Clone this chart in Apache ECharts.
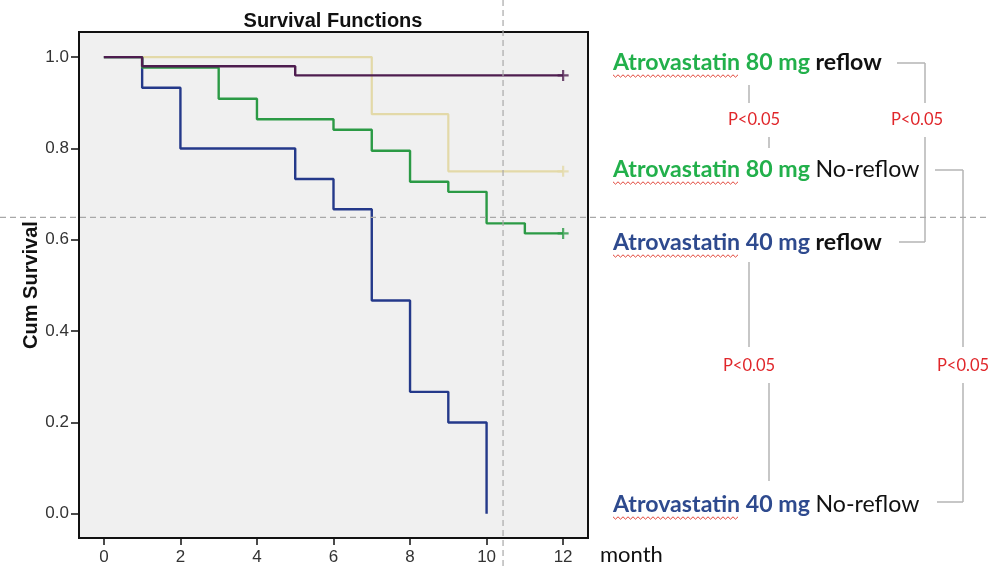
<!DOCTYPE html>
<html>
<head>
<meta charset="utf-8">
<script src="https://cdn.jsdelivr.net/npm/echarts@6/dist/echarts.min.js"></script>
<style>html,body{margin:0;padding:0;background:#fff;}#c{width:990px;height:570px;}</style>
</head>
<body>
<div id="c"></div>
<script>
// ---- data ----
const monthTicks = [0, 2, 4, 6, 8, 10, 12];
const survivalTicks = [0, 0.2, 0.4, 0.6, 0.8, 1.0];

const blueTimes = [0, 1, 2, 5, 6, 7, 8, 9, 10];
const blueSurv  = [1, 0.933, 0.8, 0.733, 0.667, 0.467, 0.267, 0.2, 0];

const greenTimes = [0, 1, 3, 4, 6, 7, 8, 9, 10, 11, 12];
const greenSurv  = [1, 0.977, 0.909, 0.864, 0.841, 0.795, 0.727, 0.705, 0.636, 0.614, 0.614];

const tanTimes = [0, 7, 9, 12];
const tanSurv  = [1, 0.875, 0.75, 0.75];

const purpleTimes = [0, 1, 5, 12];
const purpleSurv  = [1, 0.98, 0.96, 0.96];

const censorGreen  = [[12, 0.614]];
const censorTan    = [[12, 0.75]];
const censorPurple = [[12, 0.96]];

const refLineMonth = 10.43;
const refLineSurv = 0.649;

const groupLabels = [
  { drug: 'Atrovastatin', dose: '80 mg', flow: 'reflow', color: 'green', bold: true },
  { drug: 'Atrovastatin', dose: '80 mg', flow: 'No-reflow', color: 'green', bold: false },
  { drug: 'Atrovastatin', dose: '40 mg', flow: 'reflow', color: 'blue', bold: true },
  { drug: 'Atrovastatin', dose: '40 mg', flow: 'No-reflow', color: 'blue', bold: false }
];
const pLabel = 'P<0.05';

// ---- helpers ----
function pairs(xs, ys) { return xs.map((x, i) => [x, ys[i]]); }
const plusPath = 'path://M4,0H6V10H4Z M0,4H10V6H0Z';

const chart = echarts.init(document.getElementById('c'), null, { renderer: 'canvas' });

const axisFont = 'Liberation Sans';
const option = {
  animation: false,
  backgroundColor: '#ffffff',
  title: {
    text: 'Survival Functions',
    left: 328, top: 6, textAlign: 'center',
    textStyle: { fontFamily: axisFont, fontSize: 20, fontWeight: 'bold', color: '#111' }
  },
  grid: {
    left: 79, right: 402, top: 32, bottom: 32,
    show: true, backgroundColor: '#f0f0f0', borderColor: '#111', borderWidth: 2
  },
  xAxis: {
    type: 'value', min: -0.65, max: 12.65,
    name: 'month', nameLocation: 'end', nameGap: 12,
    nameTextStyle: { fontFamily: 'Lato', fontSize: 22, color: '#111', align: 'left', verticalAlign: 'top', padding: [6, 0, 0, 0] },
    axisLine: { onZero: false, lineStyle: { color: '#111', width: 2 } },
    axisTick: { show: true, customValues: monthTicks, length: 7, lineStyle: { color: '#111', width: 1.5 } },
    axisLabel: { customValues: monthTicks, fontFamily: axisFont, fontSize: 17, color: '#333', margin: 11 },
    splitLine: { show: false }
  },
  yAxis: {
    type: 'value', min: -0.053, max: 1.055,
    name: 'Cum Survival', nameLocation: 'middle', nameGap: 38, nameMoveOverlap: false,
    nameTextStyle: { fontFamily: axisFont, fontSize: 20, fontWeight: 'bold', color: '#111' },
    axisLine: { onZero: false, lineStyle: { color: '#111', width: 2 } },
    axisTick: { show: true, customValues: survivalTicks, length: 8, lineStyle: { color: '#111', width: 1.5 } },
    axisLabel: { customValues: survivalTicks, formatter: v => v.toFixed(1), fontFamily: axisFont, fontSize: 17, color: '#333', margin: 10 },
    splitLine: { show: false }
  },
  series: [
    { name: 'Atrovastatin 40 mg No-reflow', type: 'line', step: 'end', data: pairs(blueTimes, blueSurv),
      showSymbol: false, lineStyle: { color: '#24398a', width: 2.4 }, z: 2 },
    { name: 'Atrovastatin 80 mg No-reflow', type: 'line', step: 'end', data: pairs(tanTimes, tanSurv),
      showSymbol: false, lineStyle: { color: '#e3d9a8', width: 2.2 }, z: 3 },
    { name: 'Atrovastatin 40 mg reflow', type: 'line', step: 'end', data: pairs(greenTimes, greenSurv),
      showSymbol: false, lineStyle: { color: '#2b9a45', width: 2.4 }, z: 4 },
    { name: 'Atrovastatin 80 mg reflow', type: 'line', step: 'end', data: pairs(purpleTimes, purpleSurv),
      showSymbol: false, lineStyle: { color: '#4e1d4f', width: 2.4 }, z: 5 },
    { type: 'scatter', data: censorTan, symbol: plusPath, symbolSize: 11, itemStyle: { color: '#e3d9a8' }, z: 6 },
    { type: 'scatter', data: censorGreen, symbol: plusPath, symbolSize: 11, itemStyle: { color: '#2b9a45' }, z: 6 },
    { type: 'scatter', data: censorPurple, symbol: plusPath, symbolSize: 11, itemStyle: { color: '#4e1d4f' }, z: 6 }
  ]
};
chart.setOption(option);

// ---- annotations ----
const textFont = 'Lato';
const cv = document.createElement('canvas').getContext('2d');
function measure(txt, size, weight) { cv.font = weight + ' ' + size + 'px ' + textFont; return cv.measureText(txt).width; }
const baseSize = 22;
const fs = baseSize * 269 / measure(groupLabels[0].drug + ' ' + groupLabels[0].dose + ' ' + groupLabels[0].flow, baseSize, 'bold');
const colorMap = { green: '#22b04b', blue: '#2e4a8e' };

const textX = 613;
const rowY = [63, 170, 243, 505];
const graphics = [];

groupLabels.forEach((g, i) => {
  graphics.push({
    type: 'text', x: textX, y: rowY[i],
    style: {
      text: '{c|' + g.drug + ' ' + g.dose + ' }{k|' + g.flow + '}',
      verticalAlign: 'middle',
      rich: {
        c: { fontFamily: textFont, fontSize: fs, fontWeight: 'bold', fill: colorMap[g.color] },
        k: { fontFamily: textFont, fontSize: fs, fontWeight: g.bold ? 'bold' : 'normal', fill: '#111' }
      }
    }
  });
  // spell-check style wavy underline under the drug name
  const w = measure(g.drug, fs, 'bold');
  const pts = [];
  const yb = rowY[i] + 13;
  for (let k = 0, x = textX; x <= textX + w; k++, x += 2.5) pts.push([x, yb + (k % 2 ? 1.2 : -1.2)]);
  graphics.push({ type: 'polyline', shape: { points: pts }, style: { stroke: '#e2463a', lineWidth: 1, fill: null } });
});

const grey = '#b4b4b4';
function seg(x1, y1, x2, y2) {
  graphics.push({ type: 'line', shape: { x1, y1, x2, y2 }, style: { stroke: grey, lineWidth: 1.5 } });
}
function pText(x, y) {
  graphics.push({ type: 'text', x, y, style: { text: pLabel, fontFamily: textFont, fontSize: 16.5, fill: '#e0262a', align: 'center', verticalAlign: 'middle' } });
}
// 80 reflow vs 80 no-reflow
seg(749, 85, 749, 103); pText(754, 120); seg(769, 137, 769, 148);
// 80 reflow vs 40 reflow
seg(897, 63, 925, 63); seg(925, 63, 925, 103); pText(917, 120); seg(925, 137, 925, 242); seg(899, 242, 925, 242);
// 40 reflow vs 40 no-reflow
seg(749, 262, 749, 347); pText(749, 366); seg(769, 383, 769, 481);
// 80 no-reflow vs 40 no-reflow
seg(935, 170, 963, 170); seg(963, 170, 963, 347); pText(963, 366); seg(963, 383, 963, 502); seg(937, 502, 963, 502);

// dashed guide lines through the figure
const gp = chart.convertToPixel({ gridIndex: 0 }, [refLineMonth, refLineSurv]);
graphics.push({ type: 'line', z: 100, shape: { x1: gp[0], y1: 0, x2: gp[0], y2: 570 }, style: { stroke: '#a8a8a8', lineWidth: 1.2, lineDash: [6, 4] } });
graphics.push({ type: 'line', z: 100, shape: { x1: 0, y1: gp[1], x2: 990, y2: gp[1] }, style: { stroke: '#a8a8a8', lineWidth: 1.2, lineDash: [6, 4] } });

chart.setOption({ graphic: graphics });
</script>
</body>
</html>
